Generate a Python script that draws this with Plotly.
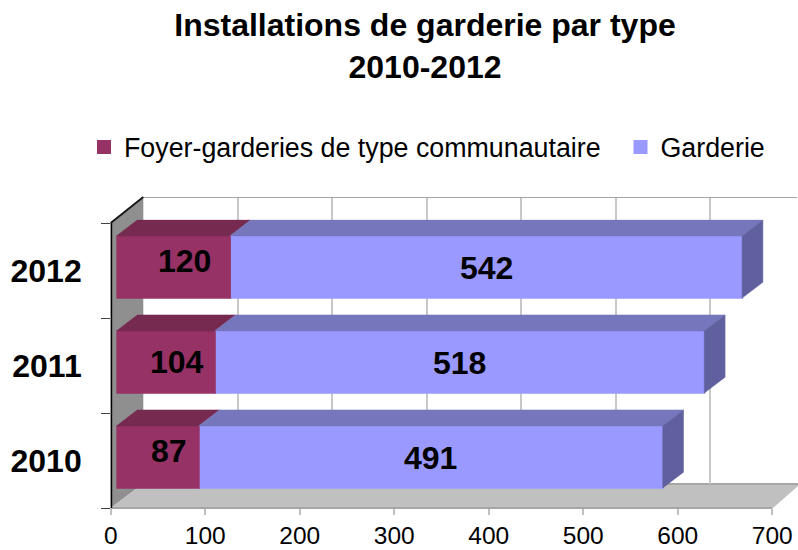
import plotly.graph_objects as go

years = ["2010", "2011", "2012"]
foyer = [87, 104, 120]
garderie = [491, 518, 542]
tick_vals = [0, 100, 200, 300, 400, 500, 600, 700]
name_foyer = "Foyer-garderies de type communautaire\u00a0\u00a0"
name_garderie = "Garderie"
foyer_label_lift = [6, 0, 6]

W, H = 798, 550
FONT = "Liberation Sans"
SCALE = 0.945          # px per unit
DEPTH_X = 22.0         # bar depth in x units
DEPTH_Y = 0.168        # bar depth in category units
BAR_W = 0.645


def px(x):
    return x / W


def py(y):
    return 1 - y / H


def poly(points):
    return "M" + " L".join(f"{px(a):.5f},{py(b):.5f}" for a, b in points) + " Z"


def top_faces(starts, ends):
    xs, ys = [], []
    for i, (a, b) in enumerate(zip(starts, ends)):
        t = i + BAR_W / 2 + 0.005
        xs += [a, b, b + DEPTH_X, a + DEPTH_X, a, None]
        ys += [t, t, t + DEPTH_Y, t + DEPTH_Y, t, None]
    return xs, ys


def side_faces(ends):
    xs, ys = [], []
    for i, b in enumerate(ends):
        t, u = i + BAR_W / 2 + 0.005, i - BAR_W / 2 - 0.005
        xs += [b, b + DEPTH_X, b + DEPTH_X, b, b, None]
        ys += [t, t + DEPTH_Y, u + DEPTH_Y, u, t, None]
    return xs, ys


totals = [a + b for a, b in zip(foyer, garderie)]
zeros = [0 for _ in foyer]
pos = list(range(len(years)))

fig = go.Figure()

# back wall: top edge carries the wall's axes
fig.add_trace(go.Scatter(x=[0, 692], y=[1, 1], mode="lines", xaxis="x", yaxis="y",
                         line=dict(color="#a6a6a6", width=2), cliponaxis=False,
                         showlegend=False, hoverinfo="skip"))
# front plane: category axis line
fig.add_trace(go.Scatter(x=[0, 0], y=[-0.5, 2.5], mode="lines", xaxis="x2", yaxis="y2",
                         line=dict(color="#000000", width=3), cliponaxis=False,
                         showlegend=False, hoverinfo="skip"))

fig.add_trace(go.Bar(y=pos, x=garderie, base=foyer, orientation="h", name=name_garderie, xaxis="x3", yaxis="y3",
                     width=BAR_W, legendrank=2,
                     marker=dict(color="#9999FF", line=dict(color="#9999FF", width=2)),
                     hoverinfo="x+name"))
fig.add_trace(go.Bar(y=pos, x=foyer, orientation="h", name=name_foyer, xaxis="x3", yaxis="y3",
                     width=BAR_W, legendrank=1,
                     marker=dict(color="#963265", line=dict(color="#963265", width=2)),
                     hoverinfo="x+name"))

for xy, colour in [
    (top_faces(zeros, foyer), "#772A50"),
    (top_faces(foyer, totals), "#7676BC"),
    (side_faces(totals), "#60609F"),
]:
    fig.add_trace(go.Scatter(x=xy[0], y=xy[1], mode="lines", fill="toself", fillcolor=colour,
                             line=dict(color=colour, width=0.5), xaxis="x3", yaxis="y3",
                             showlegend=False, hoverinfo="skip"))

annotations = []
for i, (f, g) in enumerate(zip(foyer, garderie)):
    annotations.append(dict(x=f / 2, y=i, xref="x3", yref="y3", text=f"<b>{f}</b>", showarrow=False,
                            xshift=11, yshift=foyer_label_lift[i],
                            font=dict(family=FONT, size=32, color="#000000")))
    annotations.append(dict(x=f + g / 2, y=i, xref="x3", yref="y3", text=f"<b>{g}</b>", showarrow=False,
                            yshift=-1, font=dict(family=FONT, size=32, color="#000000")))

shapes = [
    # left wall
    dict(type="path", xref="paper", yref="paper", layer="below", line=dict(width=0), fillcolor="#8F8F8F",
         path=poly([(110.7, 223), (143.3, 197), (143.3, 483.5), (110.7, 508)])),
    # floor
    dict(type="path", xref="paper", yref="paper", layer="below", line=dict(width=0), fillcolor="#C0C0C0",
         path=poly([(110.7, 508), (143.3, 483.5), (798, 483.5), (798, 486), (773, 508)])),
    dict(type="line", xref="paper", yref="paper", layer="below", line=dict(color="#A6A6A6", width=2),
         x0=px(143.3), x1=px(798), y0=py(484), y1=py(484)),
    dict(type="line", xref="paper", yref="paper", layer="below", line=dict(color="#A6A6A6", width=2),
         x0=px(110.7), x1=px(772.3), y0=py(508), y1=py(508)),
    dict(type="line", xref="paper", yref="paper", line=dict(color="#1A1A1A", width=2),
         x0=px(110.7), x1=px(143.3), y0=py(223), y1=py(197)),
]

fig.update_layout(
    width=W, height=H, autosize=False,
    margin=dict(l=0, r=0, t=0, b=0, autoexpand=False),
    paper_bgcolor="#FFFFFF", plot_bgcolor="rgba(0,0,0,0)",
    barmode="overlay",
    font=dict(family=FONT, color="#000000"),
    title=dict(text="<b>Installations de garderie par type<br>2010-2012</b>",
               x=px(425), xanchor="center", xref="paper", y=py(36), yanchor="middle",
               font=dict(family=FONT, size=32, color="#000000")),
    showlegend=True,
    legend=dict(orientation="h", x=px(84), y=py(147), xanchor="left", yanchor="middle",
                font=dict(family=FONT, size=26.8, color="#000000"),
                itemwidth=30,
                bgcolor="rgba(0,0,0,0)", traceorder="normal"),
    annotations=annotations,
    shapes=shapes,
    # back wall: gridlines
    xaxis=dict(domain=[px(143.3), 1], range=[0, 654.7 / SCALE], tickvals=tick_vals, showgrid=True,
               gridcolor="#C8C8C8", gridwidth=2, showticklabels=False, ticks="", zeroline=False,
               showline=False, anchor="y"),
    yaxis=dict(domain=[py(483.5), py(197)], range=[0, 1], showgrid=False, showticklabels=False,
               ticks="", zeroline=False, showline=False, anchor="x"),
    # front plane: ticks and labels
    xaxis2=dict(domain=[px(110.7), px(772.3)], range=[0, 700], tickvals=tick_vals, showgrid=False,
                ticks="outside", ticklen=6, tickwidth=2, tickcolor="#C0C0C0", zeroline=False,
                ticklabelstandoff=0,
                tickfont=dict(family=FONT, size=24.5, color="#000000"), showline=False, anchor="y2"),
    yaxis2=dict(domain=[py(508), py(223)], range=[-0.5, 2.5], tickvals=pos, ticktext=years,
                ticks="", ticklabelstandoff=28, showgrid=False, zeroline=False, showline=False,
                minor=dict(tickvals=[-0.5, 0.5, 1.5, 2.5], ticks="outside", ticklen=9,
                           tickwidth=1, tickcolor="#404040", showgrid=False),
                tickfont=dict(family=FONT, size=32, color="#000000", weight="bold"), anchor="x2"),
    # bar plane
    xaxis3=dict(domain=[px(116.5), px(116.5 + 700 * SCALE)], range=[0, 700], visible=False, anchor="y3"),
    yaxis3=dict(domain=[py(504.5), py(219.5)], range=[-0.5, 2.5], visible=False, anchor="x3"),
)

fig.write_html("out.html", post_script="document.body.style.margin='0';",
               config={"displayModeBar": False})
